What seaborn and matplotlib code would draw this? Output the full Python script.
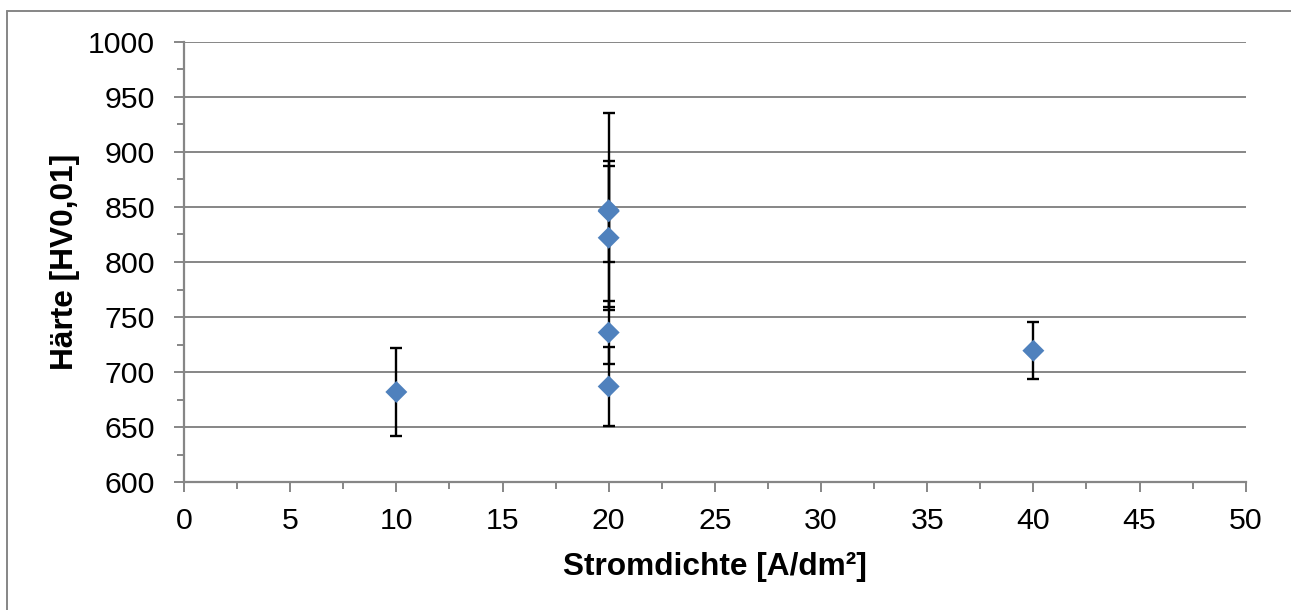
import matplotlib
matplotlib.use("Agg")
import matplotlib.pyplot as plt
import seaborn as sns
import pandas as pd
from matplotlib.ticker import MultipleLocator
from matplotlib.lines import Line2D

# Data
stromdichte = [10, 20, 20, 20, 20, 20, 40]
haerte = [682, 847, 846, 822, 736, 687, 719.5]
fehler = [40, 88, 46, 65.5, 29, 35.5, 26]

x_ticks = [0, 5, 10, 15, 20, 25, 30, 35, 40, 45, 50]
y_ticks = [600, 650, 700, 750, 800, 850, 900, 950, 1000]

df = pd.DataFrame({"x": stromdichte, "y": haerte, "err": fehler})

sns.set_theme(style="white")
plt.rcParams['font.family'] = ['Liberation Sans', 'DejaVu Sans']

fig = plt.figure(figsize=(12.91, 6.10), dpi=100)
ax = fig.add_axes([184 / 1291, 1 - 482.3 / 610, (1245.7 - 184) / 1291, (482.3 - 41.7) / 610])

grey = "#868686"
ax.set_xlim(0, 50)
ax.set_ylim(600, 1000)
ax.set_yticks(y_ticks)
ax.set_xticks(x_ticks)
ax.yaxis.set_minor_locator(MultipleLocator(25))
ax.xaxis.set_minor_locator(MultipleLocator(2.5))
ax.grid(axis="y", which="major", color=grey, linewidth=1.4, zorder=0)
ax.set_axisbelow(True)

ax.errorbar(df["x"], df["y"], yerr=df["err"], fmt="none", ecolor="black",
            elinewidth=1.7, capsize=4.6, capthick=1.7, zorder=2)
sns.scatterplot(data=df, x="x", y="y", marker="D", s=125, color="#4F81BD",
                edgecolor="none", linewidth=0, ax=ax, zorder=3, legend=False)

for side in ["top", "right"]:
    ax.spines[side].set_visible(False)
for side in ["left", "bottom"]:
    ax.spines[side].set_color(grey)
    ax.spines[side].set_linewidth(1.6)

ax.tick_params(axis="both", which="major", direction="out", length=7, width=1.4,
               color=grey, labelsize=21.8, labelcolor="black")
ax.tick_params(axis="y", which="major", pad=14)
ax.tick_params(axis="x", which="major", pad=11)
ax.tick_params(axis="both", which="minor", direction="out", length=5, width=1.4,
               color=grey)
ax.tick_params(axis="y", which="both", left=True)
ax.tick_params(axis="x", which="both", bottom=True)

ax.set_xlabel("Stromdichte [A/dm²]", fontsize=22.8, fontweight="bold",
              color="black", labelpad=12)
ax.set_ylabel("Härte [HV0,01]", fontsize=22.8, fontweight="bold",
              color="black", labelpad=6)

# figure border (top and left edges visible)
x0, y0 = 7.3 / 1291, 1 - 10.7 / 610
fig.add_artist(Line2D([x0, 1.01], [y0, y0], transform=fig.transFigure, color=grey, linewidth=1.4))
fig.add_artist(Line2D([x0, x0], [-0.01, y0], transform=fig.transFigure, color=grey, linewidth=1.4))

fig.savefig("out.png", dpi=100)
